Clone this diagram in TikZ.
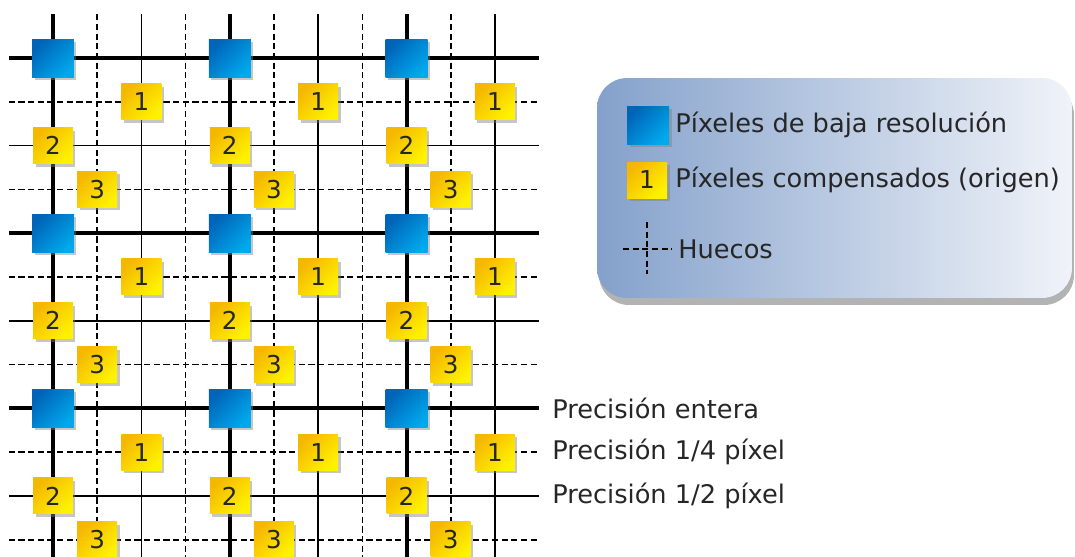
\documentclass[tikz,border=0pt]{standalone}
\usepackage{fontspec}
\setmainfont{DejaVu Sans}
\usetikzlibrary{shadows}
\definecolor{pixblueA}{RGB}{0,100,184}
\definecolor{pixblueB}{RGB}{0,168,236}
\definecolor{pixyelA}{RGB}{245,184,0}
\definecolor{pixyelB}{RGB}{255,242,0}
\definecolor{legendL}{RGB}{132,161,203}
\definecolor{legendM}{RGB}{196,210,230}
\definecolor{legendR}{RGB}{240,243,249}
\begin{document}
\begin{tikzpicture}[x=0.02cm,y=-0.02cm,
    txt/.style={font=\fontsize{14.6}{17}\selectfont,text=black!85},
    boxshadow/.style={drop shadow={shadow xshift=0.05cm,shadow yshift=-0.06cm,opacity=0.45}},
    lowres/.style={boxshadow,minimum width=0.84cm,minimum height=0.76cm,inner sep=0pt,
        top color=pixblueA,bottom color=pixblueB,shading angle=45},
    comp/.style={boxshadow,minimum width=0.8cm,minimum height=0.72cm,inner sep=0pt,
        font=\fontsize{14}{16}\selectfont,text=black!85,
        top color=pixyelA,bottom color=pixyelB,shading angle=45},
    intline/.style={line width=2.3pt},
    halfline/.style={line width=0.9pt},
    quarterline/.style={line width=0.9pt,dash pattern=on 3.5pt off 2pt},
    legendbox/.style={minimum width=9.5cm,minimum height=4.4cm,rounded corners=0.6cm,
        left color=legendL,middle color=legendM,right color=legendR,
        drop shadow={shadow xshift=0.04cm,shadow yshift=-0.14cm,opacity=0.6}}]
    \useasboundingbox (0,0) rectangle (1075,556);
    \begin{scope}[shift={(53,58)},x=0.884cm,y=-0.876cm]
        %% huecos
        \foreach \k in {1,3,5,7,9}
            \draw[quarterline] (\k,-1) -- (\k,11.4);
        \foreach \k in {1,3,5,7,9,11}
            \draw[quarterline] (-1,\k) -- (11,\k);
        %% 1/2 pixel
        \foreach \k in {2,6,10} {
            \draw[halfline] (\k,-1) -- (\k,11.4);
            \draw[halfline] (-1,\k) -- (11,\k);
        }
        %% pixel entero
        \foreach \k in {0,4,8} {
            \draw[intline] (\k,-1) -- (\k,11.4);
            \draw[intline] (-1,\k) -- (11,\k);
        }
        %% pixeles
        \foreach \i in {0,1,2}
            \foreach \j in {0,1,2} {
                \node[lowres] (low-\i-\j) at (4*\i,4*\j) {};
                \node[comp] (one-\i-\j) at (4*\i+2,4*\j+1) {1};
                \node[comp] (two-\i-\j) at (4*\i,4*\j+2) {2};
                \node[comp] (three-\i-\j) at (4*\i+1,4*\j+3) {3};
            }
        %% precision
        \node[txt,anchor=west,inner sep=0pt] (prec-int) at (11.29,8) {Precisión entera};
        \node[txt,anchor=west,inner sep=0pt] (prec-quarter) at (11.29,9) {Precisión 1/4 píxel};
        \node[txt,anchor=west,inner sep=0pt] (prec-half) at (11.29,10) {Precisión 1/2 píxel};
    \end{scope}
    %% leyenda
    \node[legendbox] (legend) at (834.5,188) {};
    \node[lowres] (key-low) at (648,125) {};
    \node[txt,anchor=west,inner sep=0pt] (key-low-txt) at (675,125) {Píxeles de baja resolución};
    \node[comp] (key-comp) at (647,180) {1};
    \node[txt,anchor=west,inner sep=0pt] (key-comp-txt) at (675,180) {Píxeles compensados (origen)};
    \coordinate (key-hole) at (647,249);
    \draw[quarterline] (623,249) -- (672,249);
    \draw[quarterline] (key-hole) ++(0,-27) -- ++(0,52);
    \node[txt,anchor=west,inner sep=0pt] (key-hole-txt) at (678,249) {Huecos};
\end{tikzpicture}
\end{document}
